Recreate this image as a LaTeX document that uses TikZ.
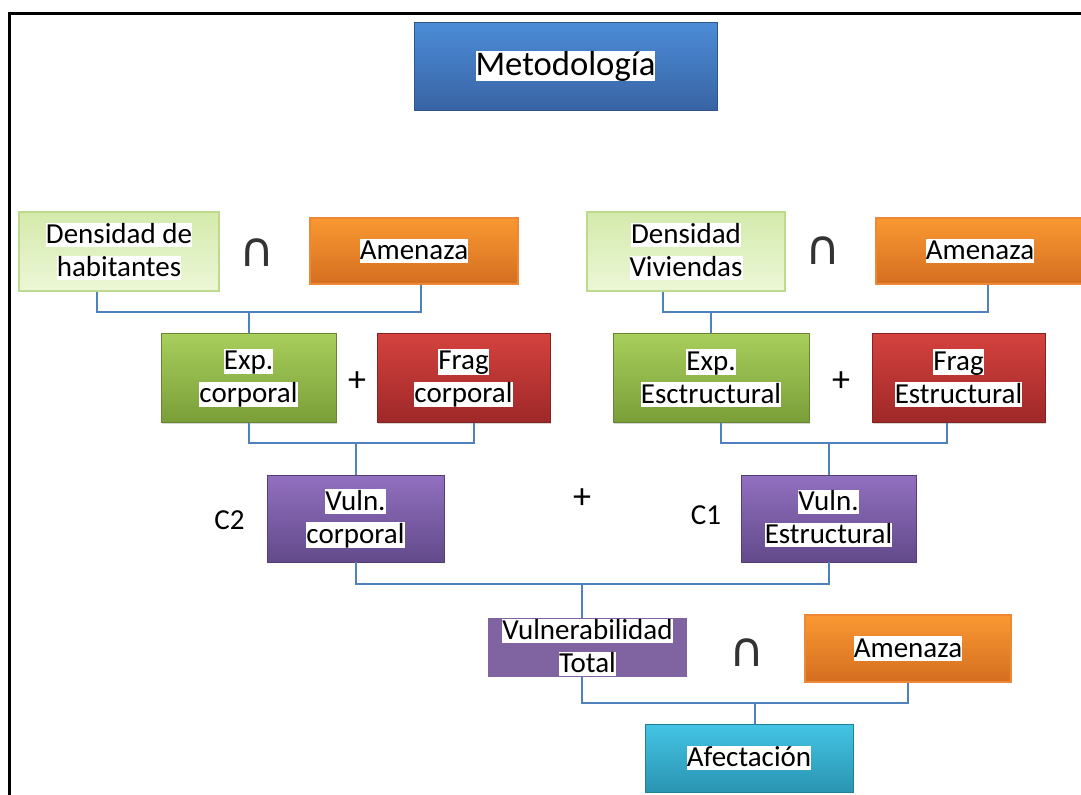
\documentclass[tikz,border=0pt]{standalone}
\usepackage{fontspec}
\setmainfont{Carlito}
\newfontfamily\symfont{DejaVu Sans}
\usetikzlibrary{shadows,calc}
\definecolor{metoT}{RGB}{76,140,216}
\definecolor{metoB}{RGB}{56,100,163}
\definecolor{densT}{RGB}{212,234,172}
\definecolor{densB}{RGB}{236,247,214}
\definecolor{densD}{RGB}{190,218,140}
\definecolor{amenT}{RGB}{250,152,50}
\definecolor{amenB}{RGB}{212,110,32}
\definecolor{amenD}{RGB}{238,136,52}
\definecolor{expT}{RGB}{168,206,92}
\definecolor{expB}{RGB}{122,158,56}
\definecolor{fragT}{RGB}{212,66,62}
\definecolor{fragB}{RGB}{158,40,40}
\definecolor{vulnT}{RGB}{146,112,192}
\definecolor{vulnB}{RGB}{98,74,138}
\definecolor{vtotC}{RGB}{128,100,162}
\definecolor{afecT}{RGB}{68,196,228}
\definecolor{afecB}{RGB}{42,148,178}
\definecolor{linec}{RGB}{79,129,189}
\newcommand\hlt[1]{{\setlength{\fboxsep}{0pt}\colorbox{white}{\rule[-0.13em]{0pt}{0.85em}#1}}}
\begin{document}
\begin{tikzpicture}[x=0.75pt,y=-0.75pt,
  box/.style={inner sep=0pt, align=center, font=\fontsize{21.75}{24.75}\selectfont},
  sz/.style 2 args={minimum width=#1*0.75pt, minimum height=#2*0.75pt},
  bev/.style 2 args={top color=#1, bottom color=#2, draw=#2!85!black, line width=0.5pt,
    drop shadow={shadow xshift=0.8pt, shadow yshift=-0.8pt, opacity=0.3}},
  flatbox/.style 2 args={top color=#1, bottom color=#2, draw=#1!70!#2, line width=1pt},
  conn/.style={draw=linec, line width=1.5pt},
  lbl/.style={inner sep=0pt, font=\fontsize{21.75}{24.75}\selectfont},
  plusop/.style={inner sep=0pt, font=\fontsize{27}{27}\selectfont},
  capop/.style={inner sep=0pt, font=\symfont\fontsize{36}{36}\selectfont, text=black!80}]
\useasboundingbox (0,0) rectangle (1081,794);
\fill[white] (0,0) rectangle (1081,794);
\draw[line width=2.25pt, line join=miter] (9.5,796) -- (9.5,13.5) -- (1083,13.5);

% title
\node[box, sz={303}{88}, bev={metoT}{metoB}, font=\fontsize{26}{30}\selectfont] (meto) at (565.5,66) {\hlt{Metodología}};

% row 1
\node[box, sz={200}{79}, flatbox={densT}{densB}, draw=densD] (dens1) at (119,251.5) {\hlt{Densidad de}\\\hlt{habitantes}};
\node[capop] (cap1) at (257,252.5) {∩};
\node[box, sz={208}{66}, flatbox={amenT}{amenB}, draw=amenD] (amen1) at (414,251) {\hlt{Amenaza}};
\node[box, sz={198}{79}, flatbox={densT}{densB}, draw=densD] (dens2) at (686,251.5) {\hlt{Densidad}\\\hlt{Viviendas}};
\node[capop] (cap2) at (823,251) {∩};
\node[box, sz={208}{66}, flatbox={amenT}{amenB}, draw=amenD] (amen2) at (980,251) {\hlt{Amenaza}};

% row 2
\node[box, sz={175}{89}, bev={expT}{expB}] (exp1) at (248.5,378) {\hlt{Exp.}\\\hlt{corporal}};
\node[plusop] (plus1) at (357,381.5) {+};
\node[box, sz={173}{89}, bev={fragT}{fragB}] (frag1) at (463.5,378) {\hlt{Frag}\\\hlt{corporal}};
\node[box, sz={196}{89}, bev={expT}{expB}] (exp2) at (711,378) {\hlt{Exp.}\\\hlt{Esctructural}};
\node[plusop] (plus2) at (841,382) {+};
\node[box, sz={173}{89}, bev={fragT}{fragB}] (frag2) at (958.5,378) {\hlt{Frag}\\\hlt{Estructural}};

% row 3
\node[lbl] (c2) at (229.5,520) {C2};
\node[box, sz={177}{87}, bev={vulnT}{vulnB}] (vuln1) at (355.5,518.5) {\hlt{Vuln.}\\\hlt{corporal}};
\node[plusop] (plus3) at (582,498.5) {+};
\node[lbl] (c1) at (706,515) {C1};
\node[box, sz={175}{87}, bev={vulnT}{vulnB}] (vuln2) at (828.5,518.5) {\hlt{Vuln.}\\\hlt{Estructural}};

% row 4
\node[box, sz={199}{59}, fill=vtotC] (vtot) at (587.5,647.5) {\hlt{Vulnerabilidad}\\\hlt{Total}};
\node[capop] (cap3) at (747,652.5) {∩};
\node[box, sz={206}{67}, flatbox={amenT}{amenB}, draw=amenD] (amen3) at (908,648.5) {\hlt{Amenaza}};
\node[box, sz={208}{68}, bev={afecT}{afecB}] (afect) at (749,758) {\hlt{Afectación}};

% connectors
\coordinate (j1) at (248.5,312);
\coordinate (j2) at (711,312);
\coordinate (j3) at (355.5,443);
\coordinate (j4) at (828.5,443);
\coordinate (j5) at (582,584);
\coordinate (j6) at (755,703);

\draw[conn] ([xshift=-16.5pt]dens1.south) |- (j1) -| ([xshift=5.25pt]amen1.south);
\draw[conn] (j1) -- (exp1.north);
\draw[conn] ([xshift=-17.25pt]dens2.south) |- (j2) -| ([xshift=6pt]amen2.south);
\draw[conn] (j2) -- (exp2.north);

\draw[conn] (exp1.south) |- (j3) -| ([xshift=7.9pt]frag1.south);
\draw[conn] (j3) -- (vuln1.north);
\draw[conn] ([xshift=7.5pt]exp2.south) |- (j4) -| ([xshift=-8.6pt]frag2.south);
\draw[conn] (j4) -- (vuln2.north);

\draw[conn] (vuln1.south) |- (j5) -| (vuln2.south);
\draw[conn] (j5) -- (j5 |- vtot.north);

\draw[conn] (j5 |- vtot.south) |- (j6) -| (amen3.south);
\draw[conn] (j6) -- (j6 |- afect.north);
\end{tikzpicture}
\end{document}
